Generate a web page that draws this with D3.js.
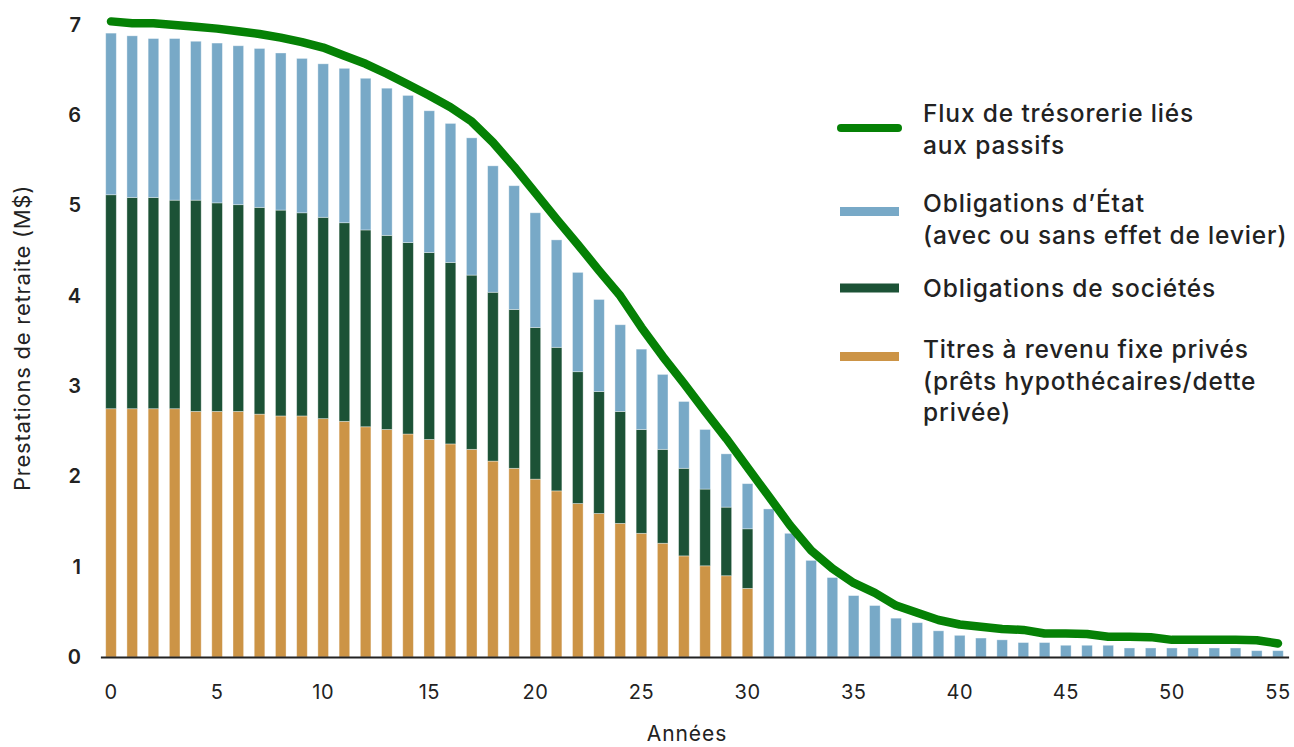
<!DOCTYPE html>
<html>
<head>
<meta charset="utf-8">
<script src="https://cdn.jsdelivr.net/npm/d3@7"></script>
<style>
  html, body { margin: 0; padding: 0; background: #fff; }
  svg { display: block; }
  text { font-family: "Inter", "Noto Sans", sans-serif; fill: #222; }
</style>
</head>
<body>
<svg id="chart" width="1294" height="747"></svg>
<script>
// ---- Data ----
const years = d3.range(0, 56);
const privateFI = [2.75,2.75,2.75,2.75,2.72,2.72,2.72,2.69,2.67,2.67,2.64,2.61,2.55,2.52,2.47,2.41,2.36,2.30,2.17,2.09,1.97,1.84,1.70,1.59,1.48,1.37,1.26,1.12,1.01,0.90,0.76,
  0,0,0,0,0,0,0,0,0,0,0,0,0,0,0,0,0,0,0,0,0,0,0,0,0];
const corporate = [2.37,2.34,2.34,2.31,2.34,2.31,2.29,2.29,2.28,2.25,2.23,2.20,2.18,2.15,2.12,2.07,2.01,1.93,1.87,1.76,1.68,1.59,1.46,1.35,1.24,1.15,1.04,0.97,0.85,0.76,0.66,
  0,0,0,0,0,0,0,0,0,0,0,0,0,0,0,0,0,0,0,0,0,0,0,0,0];
const government = [1.79,1.79,1.76,1.79,1.76,1.77,1.76,1.76,1.74,1.71,1.70,1.71,1.68,1.63,1.63,1.57,1.54,1.52,1.40,1.37,1.27,1.19,1.10,1.02,0.96,0.89,0.83,0.74,0.66,0.59,0.50,
  1.64,1.37,1.07,0.88,0.68,0.57,0.43,0.38,0.29,0.24,0.21,0.19,0.16,0.16,0.13,0.13,0.13,0.10,0.10,0.10,0.10,0.10,0.10,0.07,0.07];
const liabilities = [7.04,7.02,7.02,7.00,6.98,6.96,6.93,6.90,6.86,6.81,6.75,6.66,6.57,6.46,6.34,6.22,6.09,5.93,5.70,5.43,5.14,4.85,4.57,4.28,4.00,3.65,3.33,3.03,2.72,2.42,2.10,
  1.78,1.46,1.18,0.98,0.82,0.71,0.57,0.49,0.41,0.36,0.335,0.31,0.30,0.26,0.26,0.255,0.225,0.225,0.22,0.19,0.19,0.19,0.19,0.185,0.15];
const yTicks = [0,1,2,3,4,5,6,7];
const xTicks = [0,5,10,15,20,25,30,35,40,45,50,55];
const seriesKeys = ["privateFI","corporate","government"];
const seriesColors = {privateFI: "#CC9446", corporate: "#1C5236", government: "#78A9C7"};
const lineColor = "#058105";
const legendItems = [
  {type: "line", color: lineColor, lines: ["Flux de trésorerie liés", "aux passifs"]},
  {type: "rect", color: seriesColors.government, lines: ["Obligations d’État", "(avec ou sans effet de levier)"]},
  {type: "rect", color: seriesColors.corporate, lines: ["Obligations de sociétés"]},
  {type: "rect", color: seriesColors.privateFI, lines: ["Titres à revenu fixe privés", "(prêts hypothécaires/dette", "privée)"]}
];

// ---- Build table ----
const table = years.map((y, i) => ({year: y, privateFI: privateFI[i], corporate: corporate[i], government: government[i]}));
const stacked = d3.stack().keys(seriesKeys)(table);

const svg = d3.select("#chart");
const x = d3.scaleBand().domain(years).range([100.4, 1288.6]).paddingInner(0.5).paddingOuter(0.25);
const y = d3.scaleLinear().domain([0, 7]).range([657, 25]);

// Bars
svg.append("g").selectAll("g").data(stacked).join("g")
  .attr("fill", d => seriesColors[d.key])
  .selectAll("rect").data(d => d.filter(s => s[1] - s[0] > 0)).join("rect")
  .attr("x", d => x(d.data.year))
  .attr("width", x.bandwidth())
  .attr("y", d => y(d[1]))
  .attr("height", d => y(d[0]) - y(d[1]))
  .attr("stroke", "rgba(255,255,255,0.45)")
  .attr("stroke-width", 0.8);

// Baseline axis
const xAxis = d3.axisBottom(x).tickValues(xTicks).tickSize(0).tickPadding(28);
const gx = svg.append("g").attr("transform", `translate(0,${y(0)})`).call(xAxis);
gx.select(".domain").attr("stroke", "#222").attr("stroke-width", 2.2);
gx.selectAll("text").attr("font-size", 20).attr("fill", "#222")
  .style("font-family", "Inter, sans-serif").style("letter-spacing", "0.5px");

// Y tick labels
const yAxis = d3.axisLeft(y).tickValues(yTicks).tickSize(0).tickPadding(0).tickFormat(d3.format("d"));
const gy = svg.append("g").attr("transform", "translate(81,0)").call(yAxis);
gy.select(".domain").remove();
gy.selectAll("text").attr("font-size", 20).attr("font-weight", 600).attr("fill", "#222").style("font-family", "Inter, sans-serif");

// Line
const line = d3.line().x((d, i) => x(years[i]) + x.bandwidth() / 2).y(d => y(d));
svg.append("path").datum(liabilities)
  .attr("d", line)
  .attr("fill", "none")
  .attr("stroke", lineColor)
  .attr("stroke-width", 8.5)
  .attr("stroke-linecap", "round")
  .attr("stroke-linejoin", "round");

// Axis titles
svg.append("text").attr("x", 687).attr("y", 741).attr("text-anchor", "middle")
  .attr("font-size", 21).style("letter-spacing", "0.9px").text("Années");
svg.append("text").attr("transform", "translate(30,338) rotate(-90)").attr("text-anchor", "middle")
  .attr("font-size", 22).style("letter-spacing", "0.75px").text("Prestations de retraite (M$)");

// Legend
const legendTop = [122, 212, 297, 358];
const lg = svg.append("g");
legendItems.forEach((item, k) => {
  const by = legendTop[k];
  if (item.type === "line") {
    lg.append("line").attr("x1", 841).attr("x2", 898).attr("y1", 128).attr("y2", 128)
      .attr("stroke", item.color).attr("stroke-width", 8).attr("stroke-linecap", "round");
  } else {
    const cy = k === 1 ? 211.5 : (k === 2 ? 288 : 356.5);
    lg.append("rect").attr("x", 840).attr("y", cy - 4.5).attr("width", 59).attr("height", 9).attr("fill", item.color);
  }
  item.lines.forEach((t, j) => {
    lg.append("text").attr("x", 923).attr("y", by + j * 31.5).attr("font-size", 24.5)
      .attr("font-weight", 500).style("letter-spacing", "0.85px").text(t);
  });
});
</script>
</body>
</html>
